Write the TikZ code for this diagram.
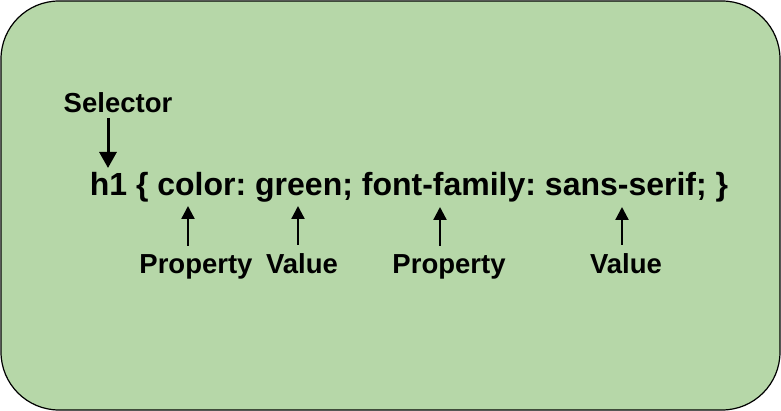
\documentclass[tikz,border=0pt]{standalone}
\usepackage{fontspec}
\setmainfont{Liberation Sans}
\usetikzlibrary{arrows.meta}
\definecolor{boxgreen}{HTML}{B6D7A8}
\frenchspacing
\begin{document}
\begin{tikzpicture}[x=1pt,y=-1pt,
  panel/.style={draw=black,line width=1.2pt,fill=boxgreen,rounded corners=58pt},
  codetext/.style={inner sep=0pt,anchor=base,font=\fontsize{32}{38}\selectfont\bfseries},
  lbl/.style={inner sep=0pt,anchor=base,font=\fontsize{27.5}{33}\selectfont\bfseries},
  downarrow/.style={line width=3pt,-{Triangle[width=17pt,length=16pt]}},
  uparrow/.style={line width=2.3pt,-{Triangle[width=13pt,length=13pt]},shorten <=9pt}]
\useasboundingbox (0,0) rectangle (781,411);
\draw[panel] (1,1) rectangle (780,410);
\node[codetext] (code) at (409,196) {\frenchspacing h1 \{ color: green; font-family: sans-serif; \}};
\node[lbl] (sel) at (118,113) {Selector};
\node[lbl] (p1) at (196,274) {Property};
\node[lbl] (v1) at (302,274) {Value};
\node[lbl] (p2) at (449,274) {Property};
\node[lbl] (v2) at (626,274) {Value};
\coordinate (selS) at (108,118);
\coordinate (selT) at (108,168);
\coordinate (t1) at (188,206);
\coordinate (t2) at (298,206);
\coordinate (t3) at (440,207);
\coordinate (t4) at (622,207);
\draw[downarrow] (selS) -- (selT);
\draw[uparrow] (p1.north -| t1) -- (t1);
\draw[uparrow] (v1.north -| t2) -- (t2);
\draw[uparrow] (p2.north -| t3) -- (t3);
\draw[uparrow] (v2.north -| t4) -- (t4);
\end{tikzpicture}
\end{document}
